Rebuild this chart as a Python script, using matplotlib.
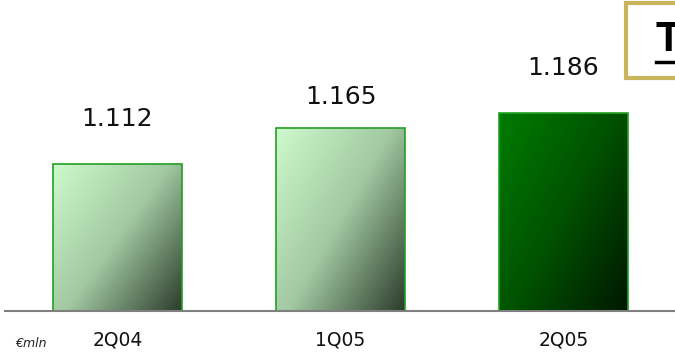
import numpy as np
import matplotlib.pyplot as plt
from matplotlib.colors import LinearSegmentedColormap
from matplotlib.patches import Rectangle
from matplotlib.lines import Line2D

categories = ['2Q04', '1Q05', '2Q05']
values = [1.112, 1.165, 1.186]
value_labels = ['1.112', '1.165', '1.186']

W, H = 675, 353
base = 0.899
plt.rcParams['font.family'] = ['DejaVu Sans']

fig = plt.figure(figsize=(W / 100, H / 100), dpi=100)
# axes: baseline at 311px from top, starts at x=5px
ax = fig.add_axes([5 / W, 42 / H, 670 / W, 311 / H])
ax.axis('off')

light = LinearSegmentedColormap.from_list('light', ['#cdfacd', '#a2c9a2', '#2c3c2c'])
dark = LinearSegmentedColormap.from_list('dark', ['#007c00', '#005200', '#001800'])
cmaps = [light, light, dark]
label_offsets = [45, 31, 45]

width = 0.578
yy, xx = np.mgrid[0:1:200j, 0:1:100j]
grad = (xx * 0.55 + yy * 0.45)

heights = [v - base for v in values]
bars = ax.bar(range(len(values)), heights, width=width, bottom=base,
              color='none', edgecolor='#22a022', linewidth=1.2, zorder=3)
for i, b in enumerate(bars):
    x0, y0 = b.get_x(), b.get_y()
    im = ax.imshow(grad, cmap=cmaps[i], aspect='auto', origin='upper',
                   extent=[x0, x0 + b.get_width(), y0, y0 + b.get_height()],
                   zorder=2, interpolation='bilinear')
    im.set_clip_path(b)
    ax.annotate(value_labels[i], (i, values[i]), xytext=(0, label_offsets[i]),
                textcoords='offset pixels', ha='center', va='center',
                fontsize=18, color='#111111')
    ax.annotate(categories[i], (i, base), xytext=(0, -29),
                textcoords='offset pixels', ha='center', va='center',
                fontsize=13.5, color='#111111', annotation_clip=False)

ax.set_xlim(-0.5045, 2.5)
ax.set_ylim(base, 1.350)

# baseline
fig.add_artist(Line2D([5 / W, 1], [42 / H, 42 / H], color='#7f7f7f', lw=1.5))

fig.text(15 / W, 1 - 343.5 / H, '€mln', style='italic', fontsize=9,
         ha='left', va='center', color='#222222')

# title box (cut off at right)
fig.add_artist(Rectangle((626 / W, 1 - 78 / H), 80 / W, 75 / H,
                         transform=fig.transFigure, facecolor='white',
                         edgecolor='#c8b45a', lw=3, clip_on=False))
fig.text(656 / W, 1 - 40 / H, 'T', fontweight='bold', fontsize=30,
         family='Liberation Sans', ha='left', va='center', color='black')
fig.add_artist(Line2D([656 / W, 1], [1 - 62 / H, 1 - 62 / H], color='black', lw=2.5))

fig.savefig('out.png', dpi=100, facecolor='white')
